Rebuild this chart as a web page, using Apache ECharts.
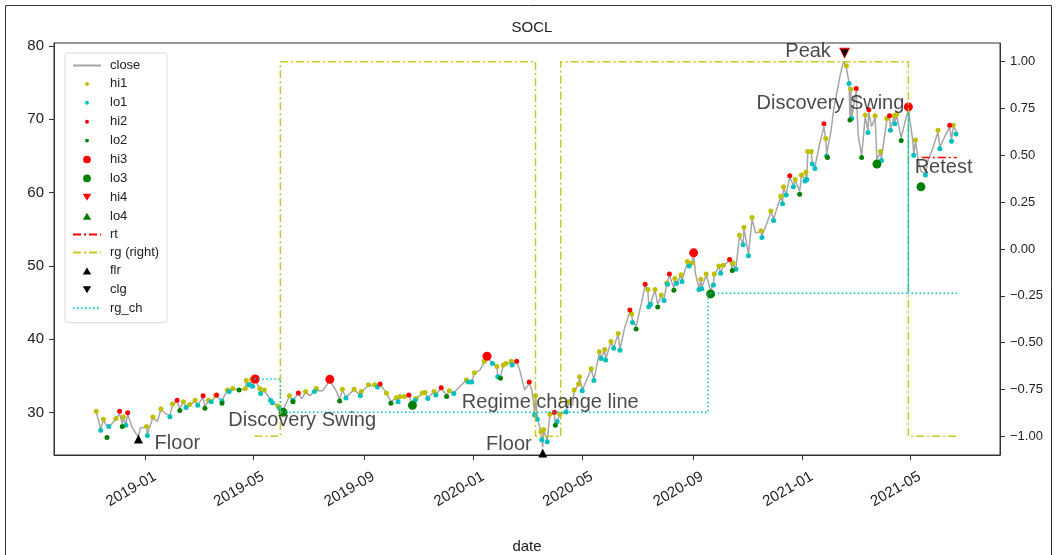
<!DOCTYPE html>
<html><head><meta charset="utf-8">
<script src="https://cdn.jsdelivr.net/npm/echarts@6/dist/echarts.min.js"></script>
<style>html,body{margin:0;padding:0;background:#fff}#c{width:1058px;height:555px}</style>
</head><body><div id="c"></div>
<script>
const chartTitle = 'SOCL';
const xTickLabels = ['2019-01','2019-05','2019-09','2020-01','2020-05','2020-09','2021-01','2021-05'];
const leftTicks = [30,40,50,60,70,80];
const rightTicks = [-1,-0.75,-0.5,-0.25,0,0.25,0.5,0.75,1];

const closeData = [
['2018-11-07',30.1],['2018-11-12',27.8],['2018-11-15',29.0],['2018-11-20',27.9],['2018-11-29',29.1],['2018-12-03',29.9],
['2018-12-06',28.4],['2018-12-07',29.2],['2018-12-10',28.5],['2018-12-12',29.8],['2018-12-17',28.0],['2018-12-21',27.2],
['2018-12-24',26.7],['2018-12-26',27.9],['2019-01-02',28.0],['2019-01-03',27.1],['2019-01-09',29.3],['2019-01-14',28.8],
['2019-01-18',30.4],['2019-01-24',29.8],['2019-01-28',29.6],['2019-01-31',31.1],['2019-02-05',31.5],['2019-02-08',30.6],
['2019-02-12',31.4],['2019-02-15',30.9],['2019-02-19',31.0],['2019-02-25',31.6],['2019-02-28',31.1],['2019-03-06',32.1],
['2019-03-08',30.9],['2019-03-12',31.6],['2019-03-15',31.5],['2019-03-20',32.2],['2019-03-21',32.3],['2019-03-27',31.7],
['2019-04-02',33.0],['2019-04-04',32.9],['2019-04-08',33.2],['2019-04-15',33.2],['2019-04-22',33.2],['2019-04-23',34.3],
['2019-04-26',33.9],['2019-04-29',34.4],['2019-04-30',33.7],['2019-05-03',34.5],['2019-05-08',33.2],['2019-05-09',32.7],
['2019-05-13',33.0],['2019-05-16',32.5],['2019-05-20',31.8],['2019-05-22',31.5],['2019-05-28',30.9],['2019-05-30',30.7],
['2019-06-03',30.4],['2019-06-10',32.2],['2019-06-14',31.7],['2019-06-20',32.6],['2019-06-24',31.9],['2019-06-28',32.8],
['2019-07-03',32.3],['2019-07-08',33.0],['2019-07-10',33.2],['2019-07-17',33.0],['2019-07-25',34.4],['2019-08-01',33.0],
['2019-08-05',31.8],['2019-08-08',33.1],['2019-08-12',32.1],['2019-08-16',32.6],['2019-08-21',33.1],['2019-08-28',32.4],
['2019-08-29',32.8],['2019-09-06',33.7],['2019-09-13',33.7],['2019-09-16',33.5],['2019-09-19',33.8],['2019-09-26',32.7],
['2019-10-01',31.5],['2019-10-07',32.0],['2019-10-09',31.6],['2019-10-11',32.1],['2019-10-16',32.1],['2019-10-21',32.3],
['2019-10-25',31.2],['2019-10-28',31.8],['2019-10-29',31.9],['2019-11-05',32.6],['2019-11-08',32.7],['2019-11-11',32.1],
['2019-11-18',32.8],['2019-11-20',32.5],['2019-11-26',33.3],['2019-12-02',32.4],['2019-12-05',32.9],['2019-12-10',32.7],
['2019-12-16',33.5],['2019-12-24',34.4],['2019-12-26',34.3],['2019-12-30',34.3],['2020-01-02',35.4],['2020-01-08',35.8],
['2020-01-13',36.9],['2020-01-16',37.5],['2020-01-22',36.8],['2020-01-27',36.3],['2020-01-28',35.0],['2020-01-31',34.9],
['2020-02-03',36.4],['2020-02-06',36.6],['2020-02-12',36.9],['2020-02-13',36.6],['2020-02-18',36.9],['2020-02-21',36.0],
['2020-02-25',34.0],['2020-02-27',33.1],['2020-03-03',34.0],['2020-03-06',33.0],['2020-03-09',30.0],['2020-03-10',32.2],
['2020-03-12',29.3],['2020-03-16',27.4],['2020-03-17',26.5],['2020-03-18',25.3],['2020-03-19',27.6],['2020-03-23',26.2],
['2020-03-26',29.7],['2020-03-31',29.9],['2020-04-01',28.5],['2020-04-03',28.9],['2020-04-06',29.7],['2020-04-13',30.2],
['2020-04-16',31.4],['2020-04-20',31.0],['2020-04-22',33.0],['2020-04-27',33.8],['2020-04-28',34.8],['2020-05-01',33.1],
['2020-05-06',34.5],['2020-05-11',35.9],['2020-05-14',34.5],['2020-05-20',38.2],['2020-05-22',37.5],['2020-05-26',38.5],
['2020-05-27',37.3],['2020-06-02',39.6],['2020-06-05',38.9],['2020-06-10',40.7],['2020-06-12',38.6],['2020-06-17',41.5],
['2020-06-23',43.8],['2020-06-25',43.4],['2020-06-26',42.4],['2020-06-30',41.8],['2020-07-06',45.0],['2020-07-10',47.3],
['2020-07-13',46.7],['2020-07-14',44.6],['2020-07-16',44.9],['2020-07-21',46.7],['2020-07-24',44.8],['2020-07-28',45.9],
['2020-07-31',45.4],['2020-08-03',47.6],['2020-08-04',47.6],['2020-08-06',48.7],['2020-08-11',47.0],['2020-08-12',48.2],
['2020-08-14',47.7],['2020-08-19',48.7],['2020-08-20',48.0],['2020-08-26',50.5],['2020-08-28',50.3],['2020-08-31',50.5],
['2020-09-02',51.5],['2020-09-04',49.0],['2020-09-08',46.9],['2020-09-10',48.1],['2020-09-11',47.0],['2020-09-16',48.8],
['2020-09-21',46.6],['2020-09-24',47.5],['2020-09-25',48.8],['2020-09-30',49.9],['2020-10-02',49.1],['2020-10-05',50.0],
['2020-10-12',50.8],['2020-10-15',49.6],['2020-10-16',50.3],['2020-10-19',49.6],['2020-10-23',54.1],['2020-10-27',53.0],
['2020-10-28',55.1],['2020-11-02',51.6],['2020-11-06',56.4],['2020-11-10',54.5],['2020-11-16',54.7],['2020-11-17',54.1],
['2020-11-23',56.0],['2020-11-27',57.4],['2020-11-30',56.4],['2020-12-04',58.0],['2020-12-08',59.4],['2020-12-10',58.7],
['2020-12-11',60.6],['2020-12-14',59.9],['2020-12-18',62.1],['2020-12-22',61.0],['2020-12-24',61.7],['2020-12-29',60.2],
['2020-12-31',62.3],['2021-01-04',61.8],['2021-01-05',62.7],['2021-01-06',62.0],['2021-01-07',65.4],['2021-01-11',65.4],
['2021-01-12',64.1],['2021-01-15',63.5],['2021-01-20',66.5],['2021-01-25',69.0],['2021-01-27',67.3],['2021-01-28',65.3],
['2021-01-29',65.1],['2021-02-02',68.5],['2021-02-05',71.5],['2021-02-09',74.0],['2021-02-12',76.0],['2021-02-16',77.9],
['2021-02-19',77.0],['2021-02-22',75.0],['2021-02-23',70.2],['2021-02-24',73.9],['2021-02-25',70.3],['2021-03-02',73.9],
['2021-03-04',68.0],['2021-03-08',65.0],['2021-03-12',70.4],['2021-03-15',68.4],['2021-03-16',71.0],['2021-03-19',69.0],
['2021-03-23',70.3],['2021-03-25',64.5],['2021-03-29',65.5],['2021-03-30',64.6],['2021-04-05',69.9],['2021-04-08',70.3],
['2021-04-09',68.7],['2021-04-13',70.3],['2021-04-14',69.6],['2021-04-16',70.5],['2021-04-21',67.5],['2021-04-26',70.0],
['2021-04-29',71.4],['2021-05-04',67.0],['2021-05-05',65.3],['2021-05-07',67.0],['2021-05-10',64.5],['2021-05-13',62.9],
['2021-05-18',62.6],['2021-05-21',64.5],['2021-05-26',66.0],['2021-06-01',68.3],['2021-06-03',66.2],['2021-06-08',67.5],
['2021-06-14',69.0],['2021-06-16',67.2],['2021-06-18',69.0],['2021-06-22',68.3]
];

const hi1Data = [
['2018-11-07',30.2],['2018-11-15',29.1],['2018-11-29',29.2],['2018-12-07',29.4],['2019-01-02',28.1],['2019-01-09',29.4],
['2019-01-18',30.5],['2019-01-31',31.2],['2019-02-12',31.5],['2019-02-19',31.1],['2019-02-25',31.7],['2019-03-12',31.7],
['2019-03-20',32.3],['2019-04-02',33.1],['2019-04-08',33.3],['2019-04-22',33.3],['2019-04-23',34.4],['2019-04-29',34.55],
['2019-05-08',33.3],['2019-05-13',33.1],['2019-05-28',30.9],['2019-06-10',32.3],['2019-06-28',32.9],['2019-07-10',33.3],
['2019-08-08',33.2],['2019-08-21',33.2],['2019-08-29',32.9],['2019-09-06',33.8],['2019-09-13',33.8],['2019-09-26',32.7],
['2019-10-07',32.05],['2019-10-11',32.2],['2019-10-16',32.2],['2019-10-29',31.95],['2019-11-05',32.7],['2019-11-08',32.75],
['2019-11-18',32.9],['2019-12-05',33.0],['2019-12-24',34.45],['2020-01-02',35.45],['2020-01-13',37.0],['2020-01-27',36.3],
['2020-02-03',36.5],['2020-02-06',36.7],['2020-02-12',37.0],['2020-03-10',32.3],['2020-03-16',27.4],['2020-03-19',27.7],
['2020-03-26',29.8],['2020-04-06',29.8],['2020-04-16',31.5],['2020-04-22',33.1],['2020-04-27',33.9],['2020-04-28',34.9],
['2020-05-11',36.0],['2020-05-20',38.3],['2020-05-26',38.6],['2020-06-02',39.7],['2020-06-10',40.8],['2020-06-25',43.45],
['2020-07-13',46.8],['2020-07-21',46.8],['2020-07-28',46.05],['2020-08-03',47.7],['2020-08-12',48.3],['2020-08-19',48.8],
['2020-08-26',50.6],['2020-08-31',50.4],['2020-09-10',48.2],['2020-09-16',48.9],['2020-09-25',48.9],['2020-09-30',50.0],
['2020-10-05',50.1],['2020-10-16',50.4],['2020-10-23',54.2],['2020-10-28',55.3],['2020-11-06',56.6],['2020-11-16',54.8],
['2020-11-27',57.5],['2020-12-08',59.5],['2020-12-11',60.8],['2020-12-24',61.8],['2020-12-31',62.4],['2021-01-05',62.8],
['2021-01-07',65.6],['2021-01-11',65.6],['2021-01-27',67.4],['2021-02-19',77.3],['2021-02-24',74.1],['2021-03-12',70.6],
['2021-03-23',70.5],['2021-03-29',65.6],['2021-04-05',70.1],['2021-04-13',70.5],['2021-04-16',70.7],['2021-05-07',67.2],
['2021-06-01',68.5],['2021-06-18',69.2]
];

const lo1Data = [
['2018-11-12',27.6],['2018-11-21',28.1],['2018-12-10',28.3],['2019-01-03',26.9],['2019-01-28',29.45],['2019-02-15',30.7],
['2019-02-28',31.0],['2019-03-15',31.5],['2019-03-27',31.6],['2019-04-04',32.9],['2019-04-26',33.8],['2019-04-30',33.6],
['2019-05-09',32.6],['2019-05-20',31.7],['2019-05-22',31.35],['2019-05-30',30.6],['2019-06-14',31.7],['2019-07-08',32.9],
['2019-08-12',32.0],['2019-08-28',32.3],['2019-09-16',33.5],['2019-10-09',31.5],['2019-10-28',31.7],['2019-11-11',31.95],
['2019-11-20',32.4],['2019-12-10',32.6],['2019-12-26',34.2],['2019-12-30',34.2],['2020-01-22',36.7],['2020-01-28',34.9],
['2020-02-13',36.5],['2020-03-09',29.7],['2020-03-12',29.1],['2020-03-17',26.3],['2020-03-23',26.05],['2020-04-03',28.8],
['2020-04-13',30.1],['2020-05-01',33.0],['2020-05-14',34.4],['2020-05-22',37.4],['2020-05-27',37.2],['2020-06-05',38.8],
['2020-06-12',38.5],['2020-06-26',42.3],['2020-07-14',44.45],['2020-07-16',44.8],['2020-07-31',45.3],['2020-08-04',47.5],
['2020-08-14',47.6],['2020-08-20',47.9],['2020-08-28',50.0],['2020-09-08',46.8],['2020-09-11',46.9],['2020-09-24',47.4],
['2020-10-02',49.0],['2020-10-19',49.55],['2020-10-27',52.9],['2020-11-02',51.4],['2020-11-17',53.9],['2020-11-30',56.2],
['2020-12-10',58.5],['2020-12-14',59.7],['2020-12-22',60.8],['2021-01-04',61.6],['2021-01-06',61.8],['2021-01-12',63.9],
['2021-01-15',63.3],['2021-01-28',65.0],['2021-02-22',74.9],['2021-02-25',70.1],['2021-03-15',68.2],['2021-03-30',64.4],
['2021-04-09',68.5],['2021-04-14',69.4],['2021-05-05',65.1],['2021-05-18',62.4],['2021-06-03',66.0],['2021-06-16',67.0],
['2021-06-21',68.0]
];

const hi2Data = [
['2018-12-03',30.2],['2018-12-12',30.0],['2019-02-05',31.7],['2019-03-06',32.3],['2019-03-21',32.4],['2019-06-20',32.7],
['2019-09-19',33.9],['2019-10-21',32.4],['2019-11-26',33.4],['2020-02-18',37.0],['2020-03-03',34.2],['2020-03-31',30.05],
['2020-06-23',44.0],['2020-07-10',47.5],['2020-08-06',48.9],['2020-10-12',50.9],['2020-12-18',62.3],['2021-01-25',69.4],
['2021-03-02',74.2],['2021-03-16',71.3],['2021-04-08',70.5],['2021-06-14',69.2]
];

const lo2Data = [
['2018-11-19',26.6],['2018-12-06',28.1],['2019-02-08',30.3],['2019-03-08',30.6],['2019-03-27',31.3],['2019-04-15',33.1],
['2019-06-14',31.5],['2019-08-05',31.6],['2019-10-01',31.3],['2019-12-02',32.2],['2020-01-31',34.7],['2020-04-01',28.3],
['2020-06-30',41.4],['2020-07-24',44.4],['2020-08-11',46.7],['2020-10-15',49.4],['2020-12-29',59.8],['2021-01-29',64.8],
['2021-02-23',69.9],['2021-03-08',64.8],['2021-04-21',67.1]
];

const hi3Data = [['2019-05-03',34.6],['2019-07-25',34.55],['2020-01-16',37.7],['2020-09-02',51.8],['2021-04-29',71.7]];
const lo3Data = [['2019-06-03',30.05],['2019-10-25',31.0],['2020-09-21',46.2],['2021-03-25',63.9],['2021-05-13',60.8]];
const hi4Data = [['2021-02-17',79.0]];
const lo4Data = [];
const rtData = [['2021-05-14',64.8],['2021-06-22',64.8]];
const rgData = [
['2019-05-02',-1],['2019-05-31',-1],['2019-05-31',1],['2020-03-10',1],['2020-03-10',-1],
['2020-04-07',-1],['2020-04-07',1],['2021-04-29',1],['2021-04-29',-1],['2021-06-22',-1]
];
const flrData = [['2018-12-24',26.4],['2020-03-18',24.5]];
const clgData = [['2021-02-17',79.0]];
const rgChData = [
['2019-05-02',34.6],['2019-05-31',34.6],['2019-05-31',30.05],['2020-09-18',30.05],['2020-09-18',46.3],
['2021-04-29',46.3],['2021-04-29',71.0],['2021-04-29',46.3],['2021-06-22',46.3]
];
const annotations = [
['2019-01-11',25.75,'Floor'],['2019-04-03',28.95,'Discovery Swing'],['2019-12-19',31.45,'Regime change line'],
['2020-01-15',25.6,'Floor'],['2020-12-13',79.2,'Peak'],['2020-11-11',72.2,'Discovery Swing'],['2021-05-06',63.5,'Retest']
];

const ts = s => { const p = s.split('-').map(Number); return new Date(p[0], p[1] - 1, p[2] || 1).getTime(); };
const toXY = arr => arr.map(r => [ts(r[0])].concat(r.slice(1)));
const FONT = 'Liberation Sans';
const YEL = '#bfbf00', CYA = '#00bfbf', RED = '#ff0000', GRN = '#008000';
const pad = 'M0,0L0.01,0M20,20L19.99,20';
const dot = r => `path://${pad}M${10 - r},10A${r},${r},0,1,1,${10 + r},10A${r},${r},0,1,1,${10 - r},10Z`;
const triDown = `path://${pad}M4,5L16,5L10,15Z`;
const triUp = `path://${pad}M4,15L16,15L10,5Z`;
const xTicks = xTickLabels.map(ts);
const noSym = { opacity: 0, color: 'rgba(0,0,0,0)', borderWidth: 0 };

function scatter(name, data, color, size, symbol, rotate, z) {
  return { name, type: 'scatter', data: toXY(data), symbol: symbol || 'circle', symbolSize: size, symbolRotate: rotate || 0,
    itemStyle: { color, opacity: 1 }, z: z || 3, silent: true };
}

const chart = echarts.init(document.getElementById('c'), null, { renderer: 'canvas' });
chart.setOption({
  animation: false,
  textStyle: { fontFamily: FONT },
  title: { text: chartTitle, left: 527, top: 15, textAlign: 'center',
    textStyle: { fontFamily: FONT, fontSize: 15, fontWeight: 'normal', color: '#222' } },
  graphic: [{ type: 'rect', shape: { x: 5.5, y: 5.5, width: 1046, height: 560 }, style: { fill: 'none', stroke: '#333', lineWidth: 1 }, silent: true }],
  grid: { left: 54, right: 58, top: 43, bottom: 100, containLabel: false, outerBoundsMode: 'none',
    show: true, borderColor: '#333', borderWidth: 1, backgroundColor: 'transparent' },
  legend: {
    orient: 'vertical', left: 65, top: 53, padding: [6, 8, 8, 7], itemWidth: 28, itemHeight: 14, itemGap: 4.9,
    backgroundColor: 'rgba(255,255,255,0.8)', borderColor: '#d8d8d8', borderWidth: 1, borderRadius: 3,
    textStyle: { fontFamily: FONT, fontSize: 13, color: '#222', padding: [0, 0, 0, 4] },
    data: [
      { name: 'close', itemStyle: noSym }, { name: 'hi1', icon: dot(2.8) }, { name: 'lo1', icon: dot(2.8) },
      { name: 'hi2', icon: dot(2.8) }, { name: 'lo2', icon: dot(2.8) }, { name: 'hi3', icon: dot(5.5) },
      { name: 'lo3', icon: dot(5.5) }, { name: 'hi4', icon: triDown }, { name: 'lo4', icon: triUp },
      { name: 'rt', itemStyle: noSym }, { name: 'rg (right)', itemStyle: noSym }, { name: 'flr', icon: triUp },
      { name: 'clg', icon: triDown }, { name: 'rg_ch', itemStyle: noSym }
    ]
  },
  xAxis: {
    type: 'value', min: ts('2018-09-21'), max: ts('2021-08-09'),
    name: 'date', nameLocation: 'middle', nameGap: 84,
    nameTextStyle: { fontFamily: FONT, fontSize: 15, color: '#222' },
    axisLine: { show: true, onZero: false, lineStyle: { color: '#333' } },
    axisTick: { show: true, length: 5, lineStyle: { color: '#333' }, customValues: xTicks },
    axisLabel: { rotate: 30, margin: 26, fontFamily: FONT, fontSize: 15, color: '#222', padding: [0, -11, 0, 0],
      customValues: xTicks, formatter: v => echarts.time.format(v, '{yyyy}-{MM}', false) },
    splitLine: { show: false }
  },
  yAxis: [
    { type: 'value', min: 24.23, max: 80.41, position: 'left',
      axisLine: { show: true, onZero: false, lineStyle: { color: '#333' } },
      axisTick: { show: true, length: 5, lineStyle: { color: '#333' }, customValues: leftTicks },
      axisLabel: { margin: 10, fontFamily: FONT, fontSize: 15, color: '#222', customValues: leftTicks },
      splitLine: { show: false } },
    { type: 'value', min: -1.1, max: 1.1, position: 'right',
      axisLine: { show: true, onZero: false, lineStyle: { color: '#333' } },
      axisTick: { show: true, length: 5, lineStyle: { color: '#333' }, customValues: rightTicks },
      axisLabel: { margin: 10, fontFamily: FONT, fontSize: 13, color: '#222', customValues: rightTicks,
        formatter: v => v.toFixed(2).replace('-', '\u2212') },
      splitLine: { show: false } }
  ],
  series: [
    { name: 'close', type: 'line', data: toXY(closeData), showSymbol: false, symbol: 'none', z: 2, silent: true,
      itemStyle: { color: '#a6a6a6' }, lineStyle: { color: '#a6a6a6', width: 1.5 } },
    scatter('hi1', hi1Data, YEL, 5),
    scatter('lo1', lo1Data, CYA, 5),
    scatter('hi2', hi2Data, RED, 5),
    scatter('lo2', lo2Data, GRN, 5),
    scatter('hi3', hi3Data, RED, 9),
    scatter('lo3', lo3Data, GRN, 9),
    scatter('hi4', hi4Data, RED, 11, 'triangle', 180),
    scatter('lo4', lo4Data, GRN, 9, 'triangle'),
    { name: 'rt', type: 'line', data: toXY(rtData), symbol: 'none', z: 4, silent: true,
      itemStyle: { color: RED }, lineStyle: { color: RED, width: 1.5, type: [8, 3, 2, 3] } },
    { name: 'rg (right)', type: 'line', yAxisIndex: 1, data: toXY(rgData), symbol: 'none', z: 4, silent: true,
      itemStyle: { color: YEL }, lineStyle: { color: YEL, width: 1.5, opacity: 0.85, type: [8, 3, 2, 3] } },
    scatter('flr', flrData, '#000', 9, 'triangle', 0, 5),
    scatter('clg', clgData, '#000', 8, 'triangle', 180, 5),
    { name: 'rg_ch', type: 'line', data: toXY(rgChData), symbol: 'none', z: 4, silent: true,
      itemStyle: { color: CYA }, lineStyle: { color: CYA, width: 1.5, type: [1.5, 2.5] } },
    { name: 'annot', type: 'scatter', data: toXY(annotations), symbolSize: 0, z: 6, silent: true,
      label: { show: true, position: 'right', distance: 0, formatter: p => p.data[2],
        fontFamily: FONT, fontSize: 20, color: '#1a1a1a' } }
  ]
});
</script></body></html>
